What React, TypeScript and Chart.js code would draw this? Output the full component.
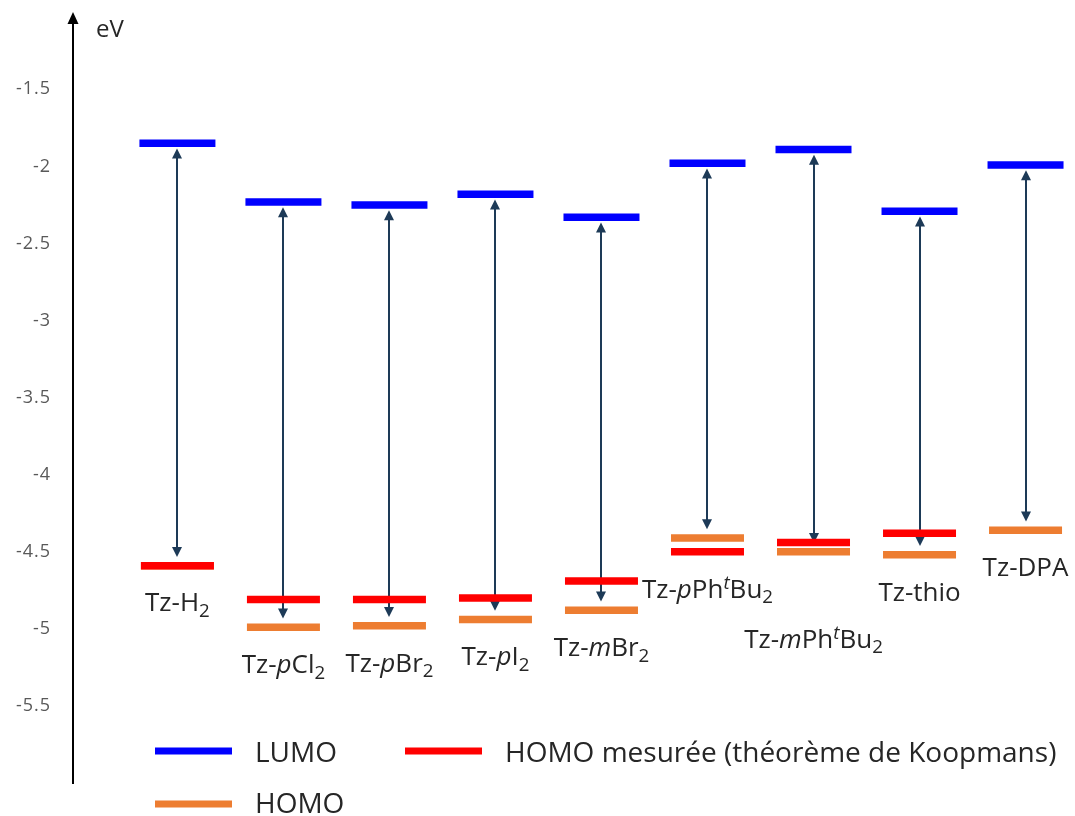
import { useEffect, useRef } from 'react';
import { Chart, registerables } from 'chart.js';

Chart.register(...registerables);

// ---- data ----
const categories = [
  'Tz-H[sub:2]',
  'Tz-[i:p]Cl[sub:2]',
  'Tz-[i:p]Br[sub:2]',
  'Tz-[i:p]I[sub:2]',
  'Tz-[i:m]Br[sub:2]',
  'Tz-[i:p]Ph[sup:t]Bu[sub:2]',
  'Tz-[i:m]Ph[sup:t]Bu[sub:2]',
  'Tz-thio',
  'Tz-DPA',
];
const lumo = [-1.85, -2.23, -2.25, -2.18, -2.33, -1.98, -1.89, -2.29, -1.99];
const homo = [-4.59, -4.99, -4.98, -4.94, -4.88, -4.41, -4.5, -4.52, -4.36];
const homoMeasured: (number | null)[] = [-4.59, -4.81, -4.81, -4.8, -4.69, -4.5, -4.44, -4.38, null];
const yTicks = [-1.5, -2, -2.5, -3, -3.5, -4, -4.5, -5, -5.5];
const seriesNames = ['LUMO', 'HOMO mesurée (théorème de Koopmans)', 'HOMO'];
const axisTitle = 'eV';

// ---- styles ----
const BLUE = '#0000FF';
const RED = '#FF0000';
const ORANGE = '#ED7D31';
const ARROW = '#1D3A57';
const TEXT = '#262626';
const TICK = '#595959';
const FONT = '"Open Sans", "Noto Sans", sans-serif';
const BAR = 7.5;

type Seg = { text: string; kind: 'n' | 'i' | 'sub' | 'sup' };
function parseRich(s: string): Seg[] {
  const out: Seg[] = [];
  const re = /\[(i|sub|sup):([^\]]+)\]/g;
  let last = 0;
  let m: RegExpExecArray | null;
  while ((m = re.exec(s))) {
    if (m.index > last) out.push({ text: s.slice(last, m.index), kind: 'n' });
    out.push({ text: m[2], kind: m[1] as Seg['kind'] });
    last = re.lastIndex;
  }
  if (last < s.length) out.push({ text: s.slice(last), kind: 'n' });
  return out;
}
function segFont(kind: Seg['kind'], size: number) {
  if (kind === 'i') return `italic ${size}px ${FONT}`;
  if (kind === 'sub') return `${size * 0.72}px ${FONT}`;
  if (kind === 'sup') return `italic ${size * 0.72}px ${FONT}`;
  return `${size}px ${FONT}`;
}
function richWidth(ctx: CanvasRenderingContext2D, segs: Seg[], size: number) {
  let w = 0;
  for (const s of segs) {
    ctx.font = segFont(s.kind, size);
    w += ctx.measureText(s.text).width;
  }
  return w;
}
function drawRich(ctx: CanvasRenderingContext2D, segs: Seg[], size: number, x: number, y: number) {
  let cx = x;
  for (const s of segs) {
    ctx.font = segFont(s.kind, size);
    let dy = 0;
    if (s.kind === 'sub') dy = size * 0.22;
    if (s.kind === 'sup') dy = -size * 0.34;
    ctx.fillText(s.text, cx, y + dy);
    cx += ctx.measureText(s.text).width;
  }
}

const diagramPlugin = {
  id: 'diagram',
  beforeDraw(chart: any) {
    (chart.ctx as any).letterSpacing = '1px';
  },
  beforeDatasetsDraw(chart: any) {
    const ctx: CanvasRenderingContext2D = chart.ctx;
    (ctx as any).letterSpacing = '0px';
    const xs = chart.scales.x;
    const ys = chart.scales.y;
    ctx.save();
    ctx.strokeStyle = ARROW;
    ctx.fillStyle = ARROW;
    ctx.lineWidth = 2;
    const head = 10;
    const hw = 5;
    categories.forEach((_, i) => {
      const x = Math.round(xs.getPixelForValue(i + 1));
      const y1 = ys.getPixelForValue(lumo[i]) + BAR / 2 + 1.5;
      const y2 = ys.getPixelForValue(homo[i]) - BAR / 2 - 5;
      ctx.beginPath();
      ctx.moveTo(x, y1 + head - 1);
      ctx.lineTo(x, y2 - head + 1);
      ctx.stroke();
      ctx.beginPath();
      ctx.moveTo(x, y1);
      ctx.lineTo(x - hw, y1 + head);
      ctx.lineTo(x + hw, y1 + head);
      ctx.closePath();
      ctx.fill();
      ctx.beginPath();
      ctx.moveTo(x, y2);
      ctx.lineTo(x - hw, y2 - head);
      ctx.lineTo(x + hw, y2 - head);
      ctx.closePath();
      ctx.fill();
    });
    ctx.restore();
  },
  afterDatasetsDraw(chart: any) {
    const ctx: CanvasRenderingContext2D = chart.ctx;
    const xs = chart.scales.x;
    const ys = chart.scales.y;
    const area = chart.chartArea;
    ctx.save();
    ctx.fillStyle = TEXT;
    ctx.textBaseline = 'alphabetic';
    ctx.textAlign = 'left';

    // compound labels with simple collision avoidance
    const size = 26;
    const placed: { x0: number; x1: number; t: number; b: number }[] = [];
    categories.forEach((c, i) => {
      const segs = parseRich(c);
      const w = richWidth(ctx, segs, size);
      const cx = xs.getPixelForValue(i + 1);
      const lows = [homo[i], homoMeasured[i]].filter((v) => v !== null) as number[];
      const lowest = Math.min(...lows);
      let base = ys.getPixelForValue(lowest) + BAR / 2 + 42;
      const x0 = cx - w / 2;
      const x1 = cx + w / 2;
      const box = () => ({ x0, x1, t: base - size * 0.78, b: base + size * 0.3 });
      let guard = 0;
      while (
        guard++ < 5 &&
        placed.some((p) => {
          const bb = box();
          return bb.x0 < p.x1 && bb.x1 > p.x0 && bb.t < p.b && bb.b > p.t;
        })
      ) {
        base += 50;
      }
      placed.push(box());
      drawRich(ctx, segs, size, x0, base);
    });

    // axis arrow head
    const ax = area.left;
    ctx.fillStyle = '#000';
    ctx.beginPath();
    ctx.moveTo(ax, 12);
    ctx.lineTo(ax - 5.5, 24);
    ctx.lineTo(ax + 5.5, 24);
    ctx.closePath();
    ctx.fill();
    if (area.top > 22) ctx.fillRect(ax - 1, 22, 2, area.top - 21);

    // axis title
    ctx.fillStyle = TEXT;
    ctx.font = `24px ${FONT}`;
    ctx.fillText(axisTitle, ax + 23, 37);

    // legend
    const ds = chart.data.datasets;
    const slots = [
      { x: 155, y: 751, tx: 255, ty: 762 },
      { x: 405, y: 751, tx: 505, ty: 762 },
      { x: 155, y: 804, tx: 255, ty: 813 },
    ];
    ds.forEach((d: any, i: number) => {
      const s = slots[i];
      ctx.fillStyle = d.pointBorderColor;
      ctx.fillRect(s.x, s.y - 3.5, 77, 7);
      ctx.fillStyle = TEXT;
      ctx.font = `28px ${FONT}`;
      ctx.fillText(d.label, s.tx, s.ty);
    });
    ctx.restore();
  },
};

function toPoints(arr: (number | null)[]) {
  return arr
    .map((v, i) => ({ x: i + 1, y: v }))
    .filter((p) => p.y !== null) as { x: number; y: number }[];
}

export default function App() {
  const ref = useRef<HTMLCanvasElement | null>(null);
  useEffect(() => {
    if (!ref.current) return;
    const mk = (label: string, data: any, color: string, r: number) => ({
      label,
      data,
      showLine: false,
      pointStyle: 'line',
      pointRadius: r,
      pointHoverRadius: r,
      pointBorderWidth: BAR,
      pointHoverBorderWidth: BAR,
      pointBorderColor: color,
      pointBackgroundColor: color,
      borderColor: color,
      backgroundColor: color,
    });
    const chart = new Chart(ref.current, {
      type: 'scatter',
      data: {
        datasets: [
          mk(seriesNames[0], toPoints(lumo), BLUE, 38),
          mk(seriesNames[1], toPoints(homoMeasured), RED, 36.5),
          mk(seriesNames[2], toPoints(homo), ORANGE, 36.5),
        ] as any,
      },
      options: {
        animation: false,
        responsive: false,
        devicePixelRatio: 1,
        events: [],
        layout: { autoPadding: false, padding: { left: 0, top: 20, right: 6, bottom: 33 } },
        plugins: { legend: { display: false }, tooltip: { enabled: false } },
        scales: {
          x: { type: 'linear', display: false, min: 0.015, max: 9.41 },
          y: {
            type: 'linear',
            min: -6,
            max: -1.05,
            afterFit: (s: any) => {
              s.width = 73;
              s.paddingTop = 0;
              s.paddingBottom = 0;
            },
            afterBuildTicks: (s: any) => {
              s.ticks = yTicks.map((v) => ({ value: v }));
            },
            grid: { display: false, drawTicks: false },
            border: { display: true, color: '#000', width: 2 },
            ticks: {
              padding: 22,
              color: TICK,
              font: { family: FONT, size: 18 },
              callback: (v: any) => String(v),
            },
          },
        },
      } as any,
      plugins: [diagramPlugin],
    });
    return () => chart.destroy();
  }, []);
  return (
    <div style={{ position: 'fixed', left: 0, top: 0, width: 1075, height: 816, background: '#fff' }}>
      <canvas ref={ref} width={1075} height={816} style={{ width: 1075, height: 816, display: 'block' }} />
    </div>
  );
}
